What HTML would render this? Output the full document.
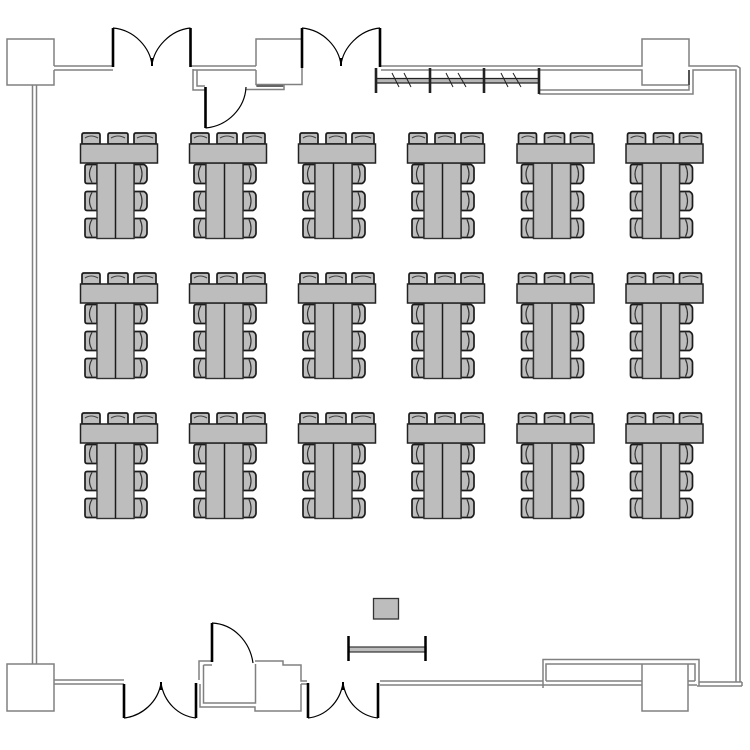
<!DOCTYPE html>
<html><head><meta charset="utf-8"><style>html,body{margin:0;padding:0;background:#fff}svg{display:block}</style></head>
<body>
<svg width="750" height="750" viewBox="0 0 750 750" xmlns="http://www.w3.org/2000/svg">
<defs>
<g id="t" stroke="#1c1c1c" stroke-width="1.700" fill="#bdbdbd">
  <path d="M82 144V135Q82 133 84 133H98Q100 133 100 135V144Z"/>
  <path d="M108 144V135Q108 133 110 133H126Q128 133 128 135V144Z"/>
  <path d="M134 144V135Q134 133 136 133H154Q156 133 156 135V144Z"/>
  <path d="M85 138Q91 134 98 138M111 138Q118 134 125 138M137 138Q145 134 153 138" fill="none" stroke="#444" stroke-width="1.100"/>
  <g id="c">
    <path d="M97 164.500H87Q85 164.500 85 167V181Q85 183.500 87 183.500H97Z"/>
    <path d="M92 165.500Q87 174 92 182.500" fill="none" stroke="#333" stroke-width="1.200"/>
    <path d="M134 164.500H144Q147 166 147 169V179Q147 182 144 183.500H134Z"/>
    <path d="M140 165.500Q144 174 140 182.500" fill="none" stroke="#333" stroke-width="1.200"/>
  </g>
  <use href="#c" y="27"/>
  <use href="#c" y="54"/>
  <rect x="97" y="163" width="37" height="75.500" stroke="#333" stroke-width="1.400"/>
  <path d="M115.500 163V238.500" fill="none" stroke-width="1.500"/>
  <rect x="80.500" y="144" width="77" height="19" stroke="#222" stroke-width="1.500"/>
</g>
<g id="r">
  <use href="#t"/><use href="#t" x="109"/><use href="#t" x="218"/><use href="#t" x="327"/><use href="#t" x="436.500"/><use href="#t" x="545.500"/>
</g>
</defs>
<use href="#r"/><use href="#r" y="140"/><use href="#r" y="280"/>

<g fill="none" stroke="#808080" stroke-width="1.500">
  <path d="M54 66V39H7V85H54V70"/>
  <path d="M54 66H113M54 70H113M32.500 85V664M36.500 85V664"/>
  <path d="M191 66H256M193 69V90H205M197 70V86H205M193 70H256"/>
  <path d="M256 66V39H302M302 68V84.500H256V70M256 86H284V89.500H246"/>
  <path d="M381 66H642V39H689V66H737L740 68V682"/>
  <path d="M381 70H642V85H689V70M539 90H689V70M539 94H693V70H736V682"/>
  <path d="M7 664H54V711H7Z"/>
  <path d="M54 680H124M54 684H124"/>
  <path d="M199 680V661H212M203.500 665H212M203.500 665V703H255.500V664M200 684V707H255V711H301V684M255 661H283V665H301V681H307M301 684H307"/>
  <path d="M380 681H543M380 685H642"/>
  <path d="M543 688V659.500H699V686M546 681V664H695V681M546 681H642M642 664V711H688V664M688 681H695M688 685H697M699 682H742M697 686H742M742 682V686"/>
</g>
<path d="M689 70V85" stroke="#555" stroke-width="2" fill="none"/>
<path d="M257 86H283" stroke="#666" stroke-width="2" fill="none"/>

<g fill="none" stroke="#000">
  <g stroke-width="2.600">
    <path d="M113 28V67M190.500 28V67M302 28V68M380 28V67M205.500 87V128"/>
    <path d="M124 684V718M196 683V718M308 683V718M378 683V718M212 623V662"/>
  </g>
  <g stroke-width="1.200">
    <path d="M113 28C135 30 150 48 152 65C154 48 170 30 190.500 28"/>
    <path d="M302 28C324 30 339 48 341 65C343 48 359 30 380 28"/>
    <path d="M205.500 128C228 126 245 108 246 87"/>
    <path d="M124 718C142 716 158 702 161 683C164 702 178 716 196 718"/>
    <path d="M308 718C326 716 340 702 343 683C346 702 360 716 378 718"/>
    <path d="M212 623C234 624 250 642 253 663"/>
  </g>
  <path d="M152 58V66M341 58V66M161 682V690M343 682V690" stroke-width="2"/>
</g>

<rect x="376" y="79" width="163" height="4" fill="#b5b5b5"/>
<g fill="none" stroke="#222">
  <path d="M376 78.500H539M376 83H539" stroke-width="1.200"/>
  <path d="M376 68V93M430 68V93M484 68V93M539 68V94" stroke-width="2.600"/>
  <path d="M392 73L399 87M404 73L411 87M446 73L453 87M458 73L466 87M501 73L508 87M513 73L521 87" stroke-width="1"/>
</g>

<rect x="373.500" y="598.500" width="25" height="20.500" fill="#bdbdbd" stroke="#333" stroke-width="1.300"/>
<rect x="349" y="647" width="77" height="5" fill="#bdbdbd" stroke="#333" stroke-width="1.200"/>
<path d="M348.500 636V661M425.500 636V661" stroke="#000" stroke-width="2.500" fill="none"/>
</svg>
</body></html>
